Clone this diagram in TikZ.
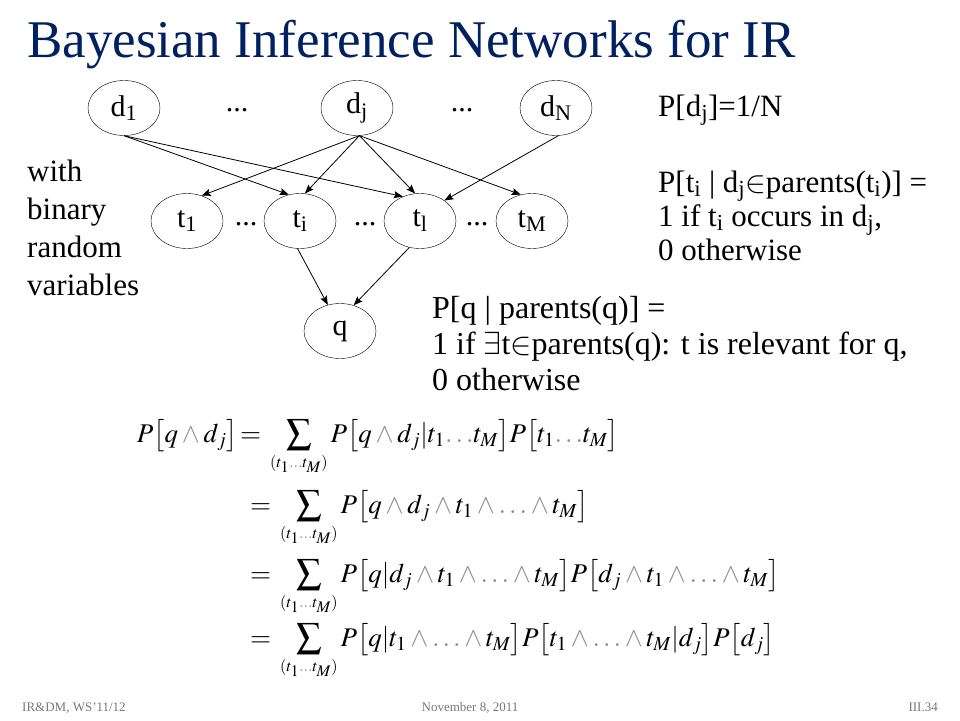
\documentclass[tikz,border=0pt]{standalone}
\usepackage{amsmath}
\usepackage{mathptmx}
\usepackage{fontspec}
\setmainfont{Liberation Serif}
\usepackage{xcolor}
\usetikzlibrary{shapes,arrows.meta,positioning}

\definecolor{titleblue}{RGB}{0,32,96}
\definecolor{footgray}{RGB}{120,120,120}
\newcommand{\gand}{\mathbin{\textcolor{black!45}{\wedge}}}
\newcommand{\gdots}{\textcolor{black!45}{\ldots}}
\newcommand{\sumidx}{\mathop{\vcenter{\hbox{\fontsize{25}{25}\selectfont$\displaystyle\sum$}}}\limits_{\scriptscriptstyle (t_1\gdots t_M)}}

\begin{document}
\begin{tikzpicture}[
    x=1pt, y=-1pt,
    var/.style={ellipse, draw, minimum width=72pt, minimum height=55pt, inner sep=0pt, font=\fontsize{30}{32}\selectfont},
    txt/.style={anchor=base west, align=left, inner sep=0pt, font=\fontsize{31}{34}\selectfont},
    dots/.style={font=\fontsize{30}{32}\selectfont, inner sep=0pt},
    eqline/.style={anchor=base west, inner sep=0pt, font=\fontsize{27}{30}\selectfont},
    foot/.style={anchor=base, inner sep=0pt, text=footgray, font=\fontsize{13}{15}\selectfont},
    arrow/.style={-{Stealth[length=9pt, width=7pt, inset=1.5pt]}, line width=0.8pt}
]
\useasboundingbox (0,0) rectangle (960,720);

% Title
\node[anchor=base west, inner sep=0pt, text=titleblue, font=\fontsize{53}{60}\selectfont] (title) at (27,57) {Bayesian Inference Networks for IR};

% Document nodes
\node[var] (d1) at (124,108) {d\textsubscript{1}};
\node[var] (dj) at (357,108) {d\textsubscript{j}};
\node[var] (dN) at (556,108) {d\textsubscript{N}};
\node[dots] (dd1) at (237,110) {...};
\node[dots] (dd2) at (462,110) {...};

% Term nodes
\node[var] (t1) at (187,221) {t\textsubscript{1}};
\node[var] (ti) at (300,221) {t\textsubscript{i}};
\node[var] (tl) at (420,221) {t\textsubscript{l}};
\node[var] (tM) at (532,221) {t\textsubscript{M}};
\node[dots] (td1) at (246,224) {...};
\node[dots] (td2) at (365,224) {...};
\node[dots] (td3) at (477,224) {...};

% Query node
\node[var] (q) at (340,331) {q};

% Arrows
\draw[arrow] (d1.south) -- (ti.113);
\draw[arrow] (d1.south) -- (tl.125);
\draw[arrow] (dj.-85) -- (t1.60);
\draw[arrow] (dj.-85) -- (ti.80);
\draw[arrow] (dj.-85) -- (tl.100);
\draw[arrow] (dj.-85) -- (tM.113);
\draw[arrow] (dN.-85) -- (tl.40);
\draw[arrow] (ti.-95) -- (q.115);
\draw[arrow] (tl.-112) -- (q.62);

% Texts (base = last line)
\node[txt, font=\fontsize{31}{38}\selectfont] (binary) at (27,295) {with\\binary\\random\\variables};
\node[txt] (pd) at (658,116) {P[d\textsubscript{j}]=1/N};
\node[txt] (pt) at (658,260) {P[t\textsubscript{i} | d\textsubscript{j}$\in$parents(t\textsubscript{i})] =\\1 if t\textsubscript{i} occurs in d\textsubscript{j},\\0 otherwise};
\node[txt, font=\fontsize{32}{36}\selectfont] (pq) at (432,390) {P[q | parents(q)] =\\1 if $\exists$t$\in$parents(q): t is relevant for q,\\0 otherwise};

% Derivation
\node[eqline, anchor=base east] (eqlhs) at (238,442) {$P\bigl[q\gand d_j\bigr]$};
\node[eqline] (eq1) at (240,442) {$={}\sumidx P\bigl[q\gand d_j|t_1\gdots t_M\bigr]P\bigl[t_1\gdots t_M\bigr]$};
\node[eqline] (eq2) at (250,513) {$={}\sumidx P\bigl[q\gand d_j\gand t_1\gand\gdots\gand t_M\bigr]$};
\node[eqline] (eq3) at (250,582) {$={}\sumidx P\bigl[q|d_j\gand t_1\gand\gdots\gand t_M\bigr]P\bigl[d_j\gand t_1\gand\gdots\gand t_M\bigr]$};
\node[eqline] (eq4) at (250,646) {$={}\sumidx P\bigl[q|t_1\gand\gdots\gand t_M\bigr]P\bigl[t_1\gand\gdots\gand t_M|d_j\bigr]P\bigl[d_j\bigr]$};

% Footer
\node[foot, anchor=base west] (fl) at (22,711) {IR\&DM, WS'11/12};
\node[foot] (fc) at (470,711) {November 8, 2011};
\node[foot, anchor=base east] (fr) at (938,711) {III.34};
\end{tikzpicture}
\end{document}
